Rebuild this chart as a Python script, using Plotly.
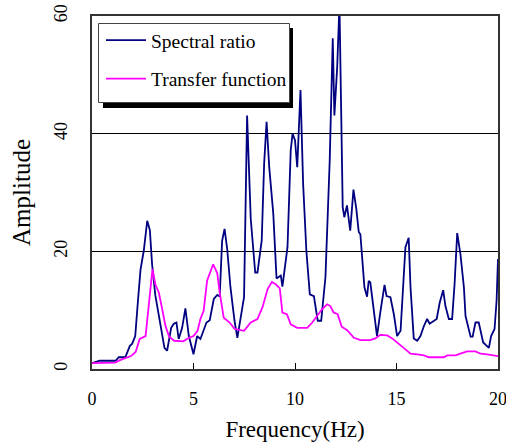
import plotly.graph_objects as go

# Spectral ratio
sr_freq = [0.0, 0.38, 1.16, 1.32, 1.64, 1.86, 1.98, 2.13, 2.25, 2.39, 2.55, 2.72, 2.85, 2.96,
           3.12, 3.35, 3.57, 3.7, 3.9, 4.03, 4.16, 4.27, 4.44, 4.6, 4.77, 5.0, 5.18, 5.34,
           5.5, 5.64, 5.8, 6.0, 6.17, 6.29, 6.41, 6.53, 6.66, 6.82, 7.02, 7.16, 7.49, 7.64,
           7.82, 8.04, 8.15, 8.36, 8.48, 8.6, 8.73, 8.93, 9.09, 9.3, 9.38, 9.63, 9.79, 9.88,
           10.0, 10.11, 10.27, 10.4, 10.56, 10.73, 10.93, 11.12, 11.29, 11.39, 11.5, 11.71,
           11.86, 11.94, 12.08, 12.19, 12.27, 12.35, 12.43, 12.56, 12.72, 12.88, 13.02,
           13.14, 13.22, 13.42, 13.55, 13.63, 13.71, 13.9, 14.04, 14.2, 14.41, 14.51, 14.7,
           14.87, 15.03, 15.2, 15.44, 15.6, 15.69, 15.85, 16.02, 16.18, 16.35, 16.51, 16.63,
           16.85, 16.98, 17.13, 17.3, 17.41, 17.58, 17.74, 17.86, 17.99, 18.15, 18.32, 18.4,
           18.65, 18.75, 18.89, 19.05, 19.27, 19.55, 19.66, 19.83, 19.93, 20.0]
sr_amp = [1.0, 1.4, 1.4, 2.0, 2.0, 3.9, 4.3, 5.6, 11.0, 16.9, 20.1, 25.2, 23.6, 17.8,
          12.5, 7.6, 3.6, 3.1, 7.0, 7.7, 7.9, 5.1, 7.0, 10.3, 5.6, 2.5, 5.6, 5.1,
          6.5, 7.9, 8.3, 11.9, 12.6, 12.3, 21.8, 23.8, 20.4, 13.9, 8.2, 5.3, 12.2, 43.1,
          25.5, 16.4, 16.4, 21.8, 34.9, 42.0, 34.3, 26.4, 15.4, 15.9, 14.0, 20.7, 37.2, 40.0,
          38.9, 34.3, 47.4, 31.5, 20.1, 12.7, 12.4, 8.2, 8.2, 12.2, 15.6, 35.4,
          56.2, 43.1, 51.4, 62.0, 40.0, 27.5, 25.8, 27.8, 23.5, 30.5, 27.2,
          23.3, 22.9, 13.9, 12.3, 15.0, 14.7, 9.3, 5.6, 9.6, 14.3, 12.4, 12.2,
          9.3, 5.6, 6.5, 20.7, 22.3, 13.9, 5.2, 4.8, 5.6, 7.3, 8.5, 7.7,
          8.2, 8.5, 11.3, 13.4, 10.7, 8.5, 8.5, 14.4, 23.1, 19.5, 13.9, 9.0,
          5.5, 5.5, 7.9, 7.9, 4.5, 3.6, 5.6, 6.8, 11.6, 18.7]

# Transfer function
tf_freq = [0.0, 1.14, 1.38, 1.66, 1.92, 2.15, 2.35, 2.64, 2.8, 2.98, 3.12, 3.29, 3.45, 3.62,
           3.8, 4.05, 4.5, 4.77, 5.0, 5.2, 5.34, 5.5, 5.67, 5.97, 6.17, 6.29, 6.49, 6.78,
           7.03, 7.25, 7.49, 7.82, 8.15, 8.4, 8.65, 8.86, 9.05, 9.25, 9.38, 9.6, 9.79,
           10.11, 10.6, 10.85, 11.1, 11.34, 11.58, 11.74, 11.9, 12.1, 12.3, 12.57, 12.9,
           13.23, 13.71, 13.96, 14.2, 14.54, 14.79, 15.03, 15.44, 15.69, 16.02, 16.35,
           16.59, 17.33, 17.5, 17.9, 18.15, 18.48, 18.89, 19.14, 19.47, 19.8, 20.0]
tf_amp = [1.0, 1.1, 1.5, 1.8, 2.2, 2.9, 5.1, 5.6, 11.0, 17.0, 14.4, 13.0, 10.3, 7.3,
          5.5, 4.8, 4.7, 5.3, 5.6, 6.5, 8.5, 9.9, 15.0, 17.8, 16.3, 13.0, 8.7, 7.9,
          6.8, 6.6, 6.5, 7.9, 8.5, 10.5, 13.6, 14.8, 14.4, 13.7, 9.6, 9.3, 7.6,
          7.0, 7.0, 7.9, 9.0, 10.2, 11.0, 10.7, 9.6, 9.3, 7.2, 6.6, 5.3,
          4.9, 4.9, 5.2, 5.8, 5.7, 5.2, 4.5, 3.4, 2.6, 2.5, 2.3,
          2.0, 2.0, 2.3, 2.3, 2.6, 3.0, 3.0, 2.6, 2.5, 2.3, 2.2]

x_ticks = [0, 5, 10, 15, 20]
y_ticks = [0, 20, 40, 60]

FONT = "Liberation Serif, Times New Roman, serif"
W, H = 506, 443
L, R, T, B = 92, 8, 16, 74
PW, PH = W - L - R, H - T - B


def px_x(v):
    return (v - L) / PW


def px_y(v):
    return (H - B - v) / PH


fig = go.Figure()
fig.add_trace(go.Scatter(x=sr_freq, y=sr_amp, mode="lines", name="Spectral ratio",
                         legendgroup="a", line=dict(color="#000080", width=1.8)))
fig.add_trace(go.Scatter(x=tf_freq, y=tf_amp, mode="lines", name="Transfer function",
                         legendgroup="b", line=dict(color="#FF00FF", width=1.8)))

fig.update_layout(
    width=W, height=H,
    margin=dict(l=L, r=R, t=T, b=B, autoexpand=False),
    paper_bgcolor="white", plot_bgcolor="white",
    font=dict(family=FONT, color="black", size=18),
    showlegend=True,
    legend=dict(x=px_x(101), y=px_y(21), xanchor="left", yanchor="top",
                bgcolor="rgba(0,0,0,0)", borderwidth=0,
                font=dict(family=FONT, size=19.5, color="black"),
                tracegroupgap=10, itemwidth=40),
    xaxis=dict(range=[0, 20], tickvals=x_ticks, ticks="inside", ticklen=6,
               tickcolor="black", tickwidth=1, showgrid=False, zeroline=False,
               showline=True, mirror=True, linecolor="#333333", linewidth=2,
               ticklabelstandoff=12, tickfont=dict(size=18), automargin=False,
               ticklabeloverflow="allow",
               title=dict(text="Frequency(Hz)", font=dict(size=23), standoff=13)),
    yaxis=dict(range=[0, 60], tickvals=y_ticks, ticks="", tickangle=-90,
               showgrid=True, gridcolor="black", gridwidth=1, zeroline=False,
               showline=True, mirror=True, linecolor="#333333", linewidth=2,
               ticklabelstandoff=16, tickfont=dict(size=18), automargin=False,
               ticklabeloverflow="allow",
               title=dict(text="Amplitude", font=dict(size=25), standoff=13)),
    shapes=[
        # legend shadow
        dict(type="rect", xref="paper", yref="paper",
             x0=px_x(103), x1=px_x(293), y0=px_y(108), y1=px_y(28),
             fillcolor="black", line=dict(width=0), layer="above"),
        # legend box
        dict(type="rect", xref="paper", yref="paper",
             x0=px_x(98.5), x1=px_x(289.5), y0=px_y(102.5), y1=px_y(23.5),
             fillcolor="white", line=dict(color="#444444", width=1), layer="above"),
    ],
)

fig.write_html("out.html", config={"displayModeBar": False},
               post_script="document.body.style.margin='0';")
